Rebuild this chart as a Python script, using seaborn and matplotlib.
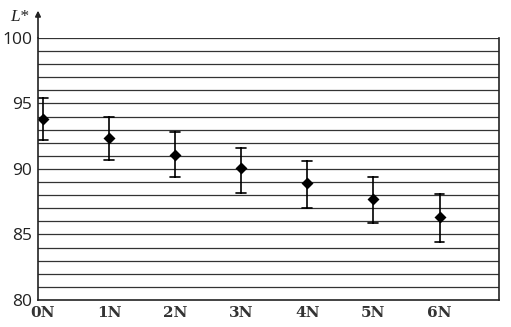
import numpy as np
import pandas as pd
import matplotlib
matplotlib.use("Agg")
import matplotlib.pyplot as plt
import seaborn as sns

categories = ["0N", "1N", "2N", "3N", "4N", "5N", "6N"]
mean_vals = [93.8, 92.4, 91.1, 90.05, 88.9, 87.7, 86.3]
lower_vals = [92.2, 90.7, 89.4, 88.2, 87.05, 85.9, 84.4]
upper_vals = [95.4, 94.0, 92.8, 91.6, 90.6, 89.4, 88.1]
y_ticks = [80, 85, 90, 95, 100]

rows = []
for c, lo, m, hi in zip(categories, lower_vals, mean_vals, upper_vals):
    for v in (lo, m, hi):
        rows.append({"cat": c, "L": v})
df = pd.DataFrame(rows)

sns.set_style("white")
fig = plt.figure(figsize=(5.11, 3.27), dpi=100)
ax = fig.add_axes([38/511, 1-300/327, (499-38)/511, (300-38)/327])

# horizontal ruling lines
for yv in range(81, 101):
    ax.axhline(yv, color="#333333", lw=0.9, zorder=0)

sns.pointplot(data=df, x="cat", y="L", order=categories, estimator="median",
              errorbar=("pi", 100), linestyle="none", markers="D",
              color="black", capsize=0.15, err_kws={"linewidth": 1.2},
              markersize=4.2, ax=ax)

ax.set_xlim(-0.075, 6.9)
ax.set_ylim(80, 100)
ax.set_yticks(y_ticks)
ax.set_yticklabels([str(t) for t in y_ticks], fontsize=12.5, family="Open Sans", color="#222222")
ax.set_xticks(range(len(categories)))
ax.set_xticklabels(categories, fontsize=11, family="DejaVu Serif", fontweight="bold", color="#333333")
ax.tick_params(axis="both", length=0, pad=4)
ax.set_xlabel("")
ax.set_ylabel("")

for s in ["top"]:
    ax.spines[s].set_visible(False)
for s in ["left", "bottom", "right"]:
    ax.spines[s].set_visible(True)
    ax.spines[s].set_color("#222222")
    ax.spines[s].set_linewidth(1.2)

# arrow on y axis
ax.annotate("", xy=(0, 1.115), xytext=(0, 0.99), xycoords="axes fraction",
            arrowprops=dict(arrowstyle="-|>", color="#222222", lw=1.2, mutation_scale=8),
            annotation_clip=False)
fig.text(10/511, 1-17/327, "L*", fontsize=12.5, style="italic", family="Liberation Serif",
         va="center", ha="left", color="#222222")

fig.savefig("out.png", dpi=100)
